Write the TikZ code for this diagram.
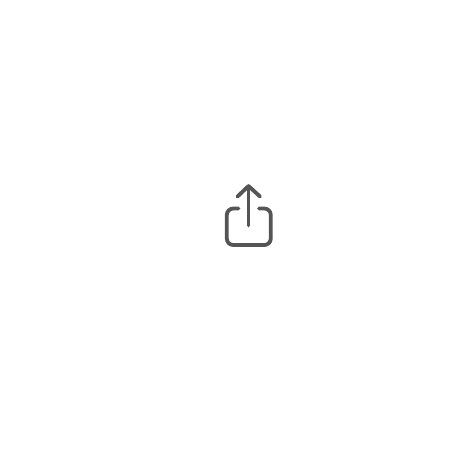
\documentclass[tikz,border=0pt]{standalone}
\definecolor{iconcol}{HTML}{555555}
\tikzset{iconline/.style={draw=iconcol,line width=3.8pt,line cap=round,line join=round}}
\begin{document}
\begin{tikzpicture}[x=1pt,y=-1pt]
\useasboundingbox (0,0) rectangle (471,459);
\fill[white] (0,0) rectangle (471,459);
\draw[iconline] (238.5,208.5) -- (233.3,208.5) arc[start angle=90,end angle=180,x radius=6.5,y radius=-6.5] -- (226.8,238.5) arc[start angle=180,end angle=270,x radius=6.5,y radius=-6.5] -- (264.3,245) arc[start angle=270,end angle=360,x radius=6.5,y radius=-6.5] -- (270.8,215) arc[start angle=0,end angle=90,x radius=6.5,y radius=-6.5] -- (259,208.5);
\draw[iconline] (248.5,225.5) -- (248.5,186);
\draw[iconline] (237.5,196.5) -- (248.5,186) -- (260,196.5);
\end{tikzpicture}
\end{document}
